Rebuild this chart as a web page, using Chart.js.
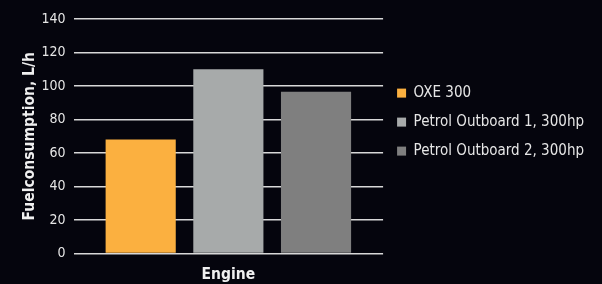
<!DOCTYPE html>
<html>
<head>
<meta charset="utf-8">
<script src="https://cdn.jsdelivr.net/npm/chart.js@4.4.0/dist/chart.umd.min.js"></script>
<style>
  html, body { margin: 0; padding: 0; background: #05050d; }
  #wrap { width: 602px; height: 284px; }
</style>
</head>
<body>
<div id="wrap"><canvas id="fuel"></canvas></div>
<script>
// data
var categories = ["Engine"];
var engines = ["OXE 300", "Petrol Outboard 1, 300hp", "Petrol Outboard 2, 300hp"];
var consumption = [68, 110, 96.5];
var colors = ["#fbb040", "#a7aaaa", "#7f7f7f"];

var datasets = [];
for (var i in engines) {
  datasets.push({
    label: engines[i],
    backgroundColor: colors[i],
    data: [consumption[i]]
  });
}

var fontFam = "'DejaVu Sans Condensed', 'DejaVu Sans', sans-serif";

new Chart(document.getElementById("fuel"), {
  type: 'bar',
  data: { labels: categories, datasets: datasets },
  options: {
    responsive: true,
    maintainAspectRatio: false,
    animation: false,
    categoryPercentage: 0.85,
    barPercentage: 0.8,
    layout: { padding: { top: 19, right: 8, left: 21, bottom: 0 } },
    plugins: {
      tooltip: { enabled: false },
      legend: {
        position: 'right',
        align: 'start',
        maxWidth: 240,
        title: {
          display: true,
          text: ' ',
          padding: { top: 0, bottom: 37 },
          font: { family: fontFam, size: 13 }
        },
        labels: {
          color: '#e6e6e6',
          boxWidth: 9,
          boxHeight: 9,
          padding: 14,
          font: { family: fontFam, size: 15 }
        }
      }
    },
    scales: {
      x: {
        grid: { display: false },
        border: { display: false },
        ticks: { display: false },
        title: {
          display: true,
          text: 'Engine',
          color: '#f0f0f0',
          padding: { top: 4, bottom: 0 },
          font: { family: fontFam, size: 15.5, weight: 'bold' }
        }
      },
      y: {
        min: 0,
        max: 140,
        ticks: {
          stepSize: 20,
          color: '#e6e6e6',
          padding: 8,
          font: { family: fontFam, size: 14 }
        },
        grid: {
          color: '#d8d8d8',
          lineWidth: 1.5,
          drawTicks: false
        },
        border: { display: false },
        title: {
          display: true,
          text: 'Fuelconsumption, L/h',
          color: '#f0f0f0',
          padding: { top: 0, bottom: -6 },
          font: { family: fontFam, size: 15.5, weight: 'bold' }
        }
      }
    }
  }
});
</script>
</body>
</html>
